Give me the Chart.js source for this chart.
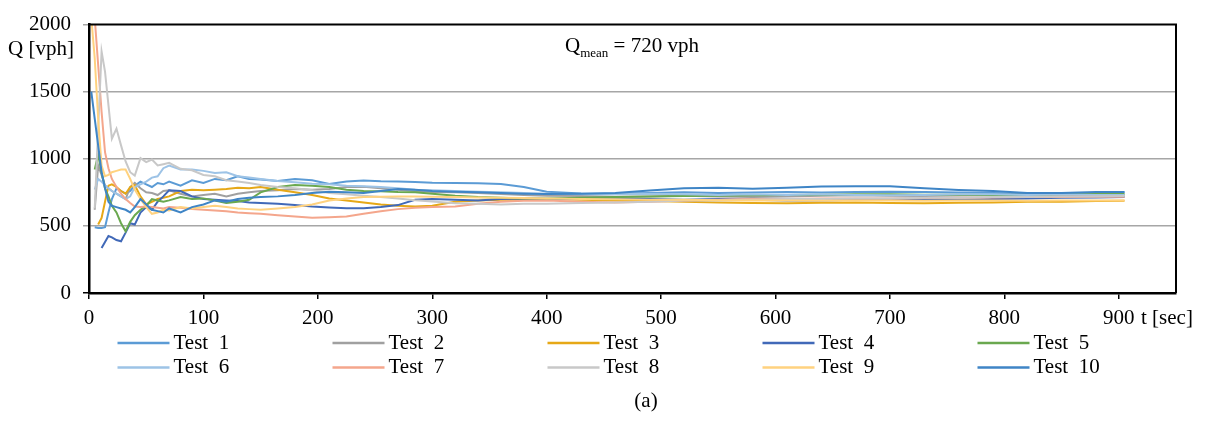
<!DOCTYPE html>
<html><head><meta charset="utf-8">
<script src="https://cdn.jsdelivr.net/npm/chart.js@4.4.1/dist/chart.umd.min.js"></script>
<style>html,body{margin:0;padding:0;background:#fff;}canvas{display:block;}</style>
</head><body>
<canvas id="c" width="1208" height="421"></canvas>
<script>
// ---- data ----
const times = [2,5,8,11,14,17,20,24,28,32, 36,40,45,50,55,60,65,70,80,90, 100,110,120,130,140,150,165,180,195,210, 225,240,255,270,285,300,320,340,360,380, 400,430,460,490,520,550,580,610,640,670, 700,730,760,790,820,850,880,905];
const test1 = [null,490,485,485,490,600,700,780,760,740, 760,800,830,810,790,820,810,830,800,840, 820,850,840,870,850,845,835,850,840,812, 830,838,832,830,828,822,820,818,812,790, 755,742,740,745,750,745,748,752,748,752, 755,752,748,745,740,742,746,748];
const test2 = [null,620,950,880,800,780,760,740,720,700, 790,820,780,750,745,730,760,765,740,720, 730,740,720,740,750,760,765,775,770,775, 790,792,780,770,760,752,750,745,738,730, 725,722,718,720,724,720,716,720,725,728, 725,722,726,730,732,730,728,726];
const test3 = [null,null,510,560,680,800,810,790,760,740, 790,805,720,660,680,700,710,720,760,770, 765,770,775,785,780,790,770,750,730,705, 690,675,660,650,645,650,680,690,695,695, 700,695,690,685,680,675,670,668,672,675, 670,668,672,675,680,680,685,688];
const test4 = [null,null,null,335,380,425,415,395,385,450, 520,510,600,640,620,680,720,765,760,720, 700,695,690,685,675,670,665,655,645,638, 632,632,640,655,695,700,695,690,700,705, 700,700,705,700,695,700,695,690,690,695, 700,700,695,700,705,710,712,715];
const test5 = [null,920,1030,900,780,720,650,600,520,460, 530,580,620,650,700,690,680,690,715,700, 705,690,670,680,695,750,790,805,800,790, 770,760,758,752,750,740,725,715,710,705, 705,710,715,720,722,725,728,730,732,735, 735,733,732,730,733,735,737,738];
const test6 = [null,770,850,830,800,780,760,740,720,700, 720,790,810,830,860,870,930,950,920,920, 910,895,900,870,860,850,835,825,815,810, 800,795,790,780,770,765,760,755,750,745, 740,735,735,740,735,730,735,730,735,730, 728,730,735,735,730,735,730,730];
const test7 = [null,2050,1700,1350,1050,930,850,790,740,700, 670,645,640,645,640,635,630,640,635,625, 620,615,610,600,595,590,580,570,560,565, 570,590,610,625,635,640,645,665,680,688, 690,680,675,680,690,695,700,700,705,705, 705,708,710,712,715,715,718,718];
const test8 = [null,630,1220,1800,1650,1400,1150,1225,1100,980, 900,875,1005,975,995,950,960,970,925,915, 880,870,840,830,820,805,790,780,765,745, 735,725,715,705,692,682,668,665,660,665, 665,670,675,680,690,690,695,700,700,705, 705,710,710,715,715,720,720,722];
const test9 = [2050,1750,1300,950,870,880,900,910,920,920, 850,770,700,640,590,600,620,615,640,630, 640,650,640,630,625,620,630,640,660,690, 705,715,718,720,720,718,715,712,710,708, 705,700,698,695,695,692,690,690,688,690, 690,688,690,690,688,690,690,690];
const test10 = [1500,1300,1100,900,780,680,650,640,630,620, 600,640,700,660,620,610,600,630,600,640, 660,690,680,700,710,715,720,730,745,755, 750,745,760,775,770,760,755,750,745,740, 738,740,745,764,780,785,776,785,793,796, 796,780,768,760,745,745,752,752];
const seriesNames = ["Test 1","Test 2","Test 3","Test 4","Test 5","Test 6","Test 7","Test 8","Test 9","Test 10"];
const seriesValues = [test1,test2,test3,test4,test5,test6,test7,test8,test9,test10];
const xTickValues = [0,100,200,300,400,500,600,700,800,900];
const yTickValues = [0,500,1000,1500,2000];

// ---- styles ----
const colors = ['#5B9BD5','#A0A0A0','#E6A817','#4169B8','#6AA84F','#9DC3E6','#F4A68C','#C8C8C8','#FFD27F','#3F85C6'];
const FONT = "'Liberation Serif','Times New Roman',serif";
const GRID = '#A6A6A6';

const datasets = seriesValues.map((vals, i) => ({
  label: seriesNames[i],
  data: times.map((t, k) => ({x: t, y: vals[k]})),
  borderColor: colors[i],
  backgroundColor: colors[i],
  borderWidth: 2,
  pointRadius: 0,
  tension: 0,
  fill: false,
  clip: 0,
  order: 10 - i
}));

const decor = {
  id: 'decor',
  afterDatasetsDraw(chart) {
    const {ctx, chartArea: a} = chart;
    ctx.save();
    ctx.strokeStyle = '#000';
    ctx.lineWidth = 2;
    ctx.beginPath();
    ctx.moveTo(a.left, a.top);
    ctx.lineTo(a.right, a.top);
    ctx.lineTo(a.right, a.bottom);
    ctx.stroke();
    ctx.restore();
  },
  afterDraw(chart) {
    const ctx = chart.ctx;
    ctx.save();
    ctx.fillStyle = '#000';
    ctx.font = '21px ' + FONT;
    ctx.textAlign = 'left';
    ctx.textBaseline = 'middle';
    ctx.fillText('Q [vph]', 8, 49);
    ctx.fillText('t [sec]', 1141, 318);
    ctx.textAlign = 'center';
    ctx.fillText('(a)', 646, 401);
    // annotation
    ctx.textAlign = 'left';
    ctx.textBaseline = 'alphabetic';
    let x = 565;
    ctx.font = '21px ' + FONT;
    ctx.fillText('Q', x, 52);
    x += ctx.measureText('Q').width;
    ctx.font = '13px ' + FONT;
    ctx.fillText('mean', x, 57);
    x += ctx.measureText('mean').width;
    ctx.font = '21px ' + FONT;
    ctx.fillText(' = 720 vph', x, 52);
    // legend
    ctx.textBaseline = 'middle';
    datasets.forEach((d, i) => {
      const col = i % 5, row = Math.floor(i / 5);
      const x0 = 117.5 + col * 215;
      const y = 343 + row * 24.5;
      ctx.strokeStyle = d.borderColor;
      ctx.lineWidth = 2.5;
      ctx.beginPath();
      ctx.moveTo(x0, y);
      ctx.lineTo(x0 + 52, y);
      ctx.stroke();
      ctx.fillText(d.label.replace(' ', '  '), x0 + 56, y);
    });
    ctx.restore();
  }
};

new Chart(document.getElementById('c'), {
  type: 'line',
  data: {datasets},
  plugins: [decor],
  options: {
    responsive: false,
    animation: false,
    devicePixelRatio: 1,
    layout: {padding: {left: 0, right: 32, top: 19, bottom: 0}},
    plugins: {legend: {display: false}, title: {display: false}, tooltip: {enabled: false}},
    scales: {
      x: {
        type: 'linear', min: 0, max: 950,
        afterBuildTicks: s => { s.ticks = xTickValues.map(v => ({value: v})); },
        afterFit: s => { s.height = 128; },
        grid: {display: true, drawOnChartArea: false, drawTicks: true, tickLength: 6, color: '#000', lineWidth: 1.5},
        border: {display: true, color: '#000', width: 2.5},
        ticks: {font: {family: FONT, size: 21}, color: '#000', padding: 7, maxRotation: 0, autoSkip: false, callback: v => String(v)}
      },
      y: {
        type: 'linear', min: 0, max: 2000,
        afterBuildTicks: s => { s.ticks = yTickValues.map(v => ({value: v})); },
        afterFit: s => { s.width = 89; },
        grid: {
          color: c => (c.tick && (c.tick.value === 0 || c.tick.value === 2000)) ? 'rgba(0,0,0,0)' : GRID,
          tickColor: c => (c.tick && c.tick.value === 0) ? '#000' : GRID,
          lineWidth: 1.5, tickLength: 6, drawTicks: true
        },
        border: {display: true, color: '#000', width: 2.5},
        ticks: {font: {family: FONT, size: 21}, color: '#000', padding: 12, callback: v => String(v)}
      }
    }
  }
});
</script>
</body></html>
